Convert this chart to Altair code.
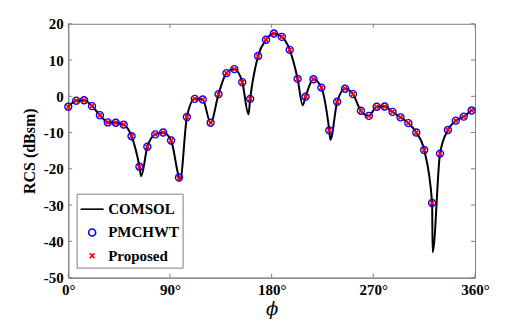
import altair as alt
import pandas as pd

# ---- data ----
series_names = ["COMSOL", "PMCHWT", "Proposed"]
series_colors = ["#000000", "#0000ff", "#ff0000"]

phi_markers = list(range(0, 358, 7))  # 0, 7, ..., 357
pmchwt = [-2.9, -1.2, -1.1, -2.7, -5.2, -7.2, -7.3, -7.8, -11.0, -19.4,
          -13.9, -10.5, -10.0, -12.2, -22.4, -5.7, -0.7, -0.9, -7.3, 0.6,
          6.4, 7.5, 3.9, -0.7, 11.1, 15.6, 17.3, 16.4, 12.8, 4.8,
          -0.1, 4.7, 2.4, -9.4, -1.5, 2.1, 0.6, -4.0, -5.4, -2.9,
          -2.8, -4.3, -5.8, -7.4, -10.0, -14.8, -29.4, -15.8, -9.3, -6.7,
          -5.6, -3.9]
proposed = [-2.9, -1.2, -1.1, -2.7, -5.2, -7.2, -7.3, -7.8, -11.0, -19.4,
            -13.9, -10.5, -10.0, -12.2, -22.7, -5.7, -0.7, -0.9, -7.3, 0.6,
            6.4, 7.5, 3.9, -0.7, 11.1, 15.6, 17.3, 16.4, 12.8, 4.8,
            -0.1, 4.7, 2.4, -9.4, -1.5, 2.1, 0.6, -4.0, -5.4, -2.9,
            -2.8, -4.3, -5.8, -7.4, -10.0, -14.8, -29.4, -15.8, -9.3, -6.7,
            -5.6, -3.9]

# COMSOL curve: marker-angle readings plus the nulls seen between them
comsol_phi = [0, 7, 14, 21, 28, 35, 42, 49, 56, 63, 64.5, 70, 77, 84, 91, 98, 99,
              105, 112, 119, 126, 133, 140, 147, 154, 159.5, 161, 168, 175, 182,
              189, 196, 203, 207.5, 210, 217, 224, 231, 232, 238, 245, 252, 259,
              266, 273, 280, 287, 294, 301, 308, 315, 322, 322.5, 329, 336, 343,
              350, 357, 360]
comsol_rcs = [-2.9, -1.2, -1.1, -2.7, -5.2, -7.2, -7.3, -7.8, -11.0, -19.4, -22.0,
              -13.9, -10.5, -10.0, -12.2, -22.4, -23.2, -5.7, -0.7, -0.9, -7.3,
              0.6, 6.4, 7.5, 3.9, -5.0, -0.7, 11.1, 15.6, 17.3, 16.4, 12.8, 4.8,
              -2.5, -0.1, 4.7, 2.4, -9.4, -12.0, -1.5, 2.1, 0.6, -4.0, -5.4,
              -2.9, -2.8, -4.3, -5.8, -7.4, -10.0, -14.8, -29.4, -43.0, -15.8,
              -9.3, -6.7, -5.6, -3.9, -3.3]

x_ticks = [0, 90, 180, 270, 360]
y_ticks = [20, 10, 0, -10, -20, -30, -40, -50]

# ---- tables ----
df_line = pd.DataFrame({"phi": comsol_phi, "rcs": comsol_rcs, "series": "COMSOL"})
df_pm = pd.DataFrame({"phi": phi_markers, "rcs": pmchwt, "series": "PMCHWT"})
df_pr = pd.DataFrame({"phi": phi_markers, "rcs": proposed, "series": "Proposed"})
df_xt = pd.DataFrame({"phi": x_ticks})
df_yt = pd.DataFrame({"rcs": y_ticks})

W, H = 407, 254
FONT = "Liberation Serif"
GRAY = "#808080"

xscale = alt.Scale(domain=[0, 360], nice=False, zero=False)
yscale = alt.Scale(domain=[-50, 20], nice=False, zero=False)

common_axis = dict(ticks=False, grid=False, labelFont=FONT, labelFontSize=15,
                   labelFontWeight="bold", labelColor="black", titleColor="black",
                   labelOverlap=False, labelFlush=False, domainColor=GRAY, labelPadding=5)

xaxis = alt.Axis(values=x_ticks, labelExpr="datum.value + '°'",
                 title="ϕ", titleFont="DejaVu Serif", titleFontStyle="italic",
                 titleFontWeight="normal", titleFontSize=18, titlePadding=3,
                 **common_axis)
yaxis = alt.Axis(values=y_ticks, labelExpr="'' + datum.value",
                 title="RCS (dBsm)", titleFont=FONT, titleFontWeight="bold",
                 titleFontSize=16, titlePadding=6, **common_axis)

color_enc = alt.Color("series:N", scale=alt.Scale(domain=series_names, range=series_colors),
                      legend=alt.Legend(title=None, orient="none", legendX=8.4, legendY=170,
                                        padding=3, rowPadding=7.3, labelOffset=3.5,
                                        strokeColor=GRAY, fillColor="white",
                                        labelFont=FONT, labelFontSize=15,
                                        labelFontWeight="bold", labelColor="black",
                                        symbolStrokeWidth=1.6, cornerRadius=0))
shape_enc = alt.Shape("series:N", scale=alt.Scale(domain=series_names,
                      range=["stroke", "circle", "M-1,-1L1,1M-1,1L1,-1"]), legend=None)
size_enc = alt.Size("series:N", scale=alt.Scale(type="ordinal", domain=series_names,
                    range=[529, 49, 22]), legend=None)

X = alt.X("phi:Q", scale=xscale, axis=xaxis)
Y = alt.Y("rcs:Q", scale=yscale, axis=yaxis)

line = alt.Chart(df_line).mark_line(interpolate="monotone", strokeWidth=2).encode(
    x=X, y=Y, color=color_enc,
)
pm = alt.Chart(df_pm).mark_point(filled=False, strokeWidth=1.4, opacity=1).encode(
    x=X, y=Y, color=color_enc, shape=shape_enc, size=size_enc,
)
pr = alt.Chart(df_pr).mark_point(filled=False, strokeWidth=1.6, opacity=1).encode(
    x=X, y=Y, color=color_enc, shape=shape_enc, size=size_enc,
)

tick_len = 4
xt_bot = alt.Chart(df_xt).mark_rule(color=GRAY, strokeWidth=1).encode(
    x=X, y=alt.value(H), y2=alt.value(H - tick_len))
xt_top = alt.Chart(df_xt).mark_rule(color=GRAY, strokeWidth=1).encode(
    x=X, y=alt.value(0), y2=alt.value(tick_len))
yt_left = alt.Chart(df_yt).mark_rule(color=GRAY, strokeWidth=1).encode(
    y=Y, x=alt.value(0), x2=alt.value(tick_len))
yt_right = alt.Chart(df_yt).mark_rule(color=GRAY, strokeWidth=1).encode(
    y=Y, x=alt.value(W), x2=alt.value(W - tick_len))

chart = alt.layer(line, xt_bot, xt_top, yt_left, yt_right, pm, pr).properties(
    width=W, height=H,
    background="white",
    autosize=alt.AutoSizeParams(type="none"),
    padding={"left": 60.3, "top": 15.7, "right": 43, "bottom": 43},
).configure_view(stroke=GRAY, strokeWidth=1)

chart.save("out.html", embed_options={"renderer": "svg", "actions": False})
